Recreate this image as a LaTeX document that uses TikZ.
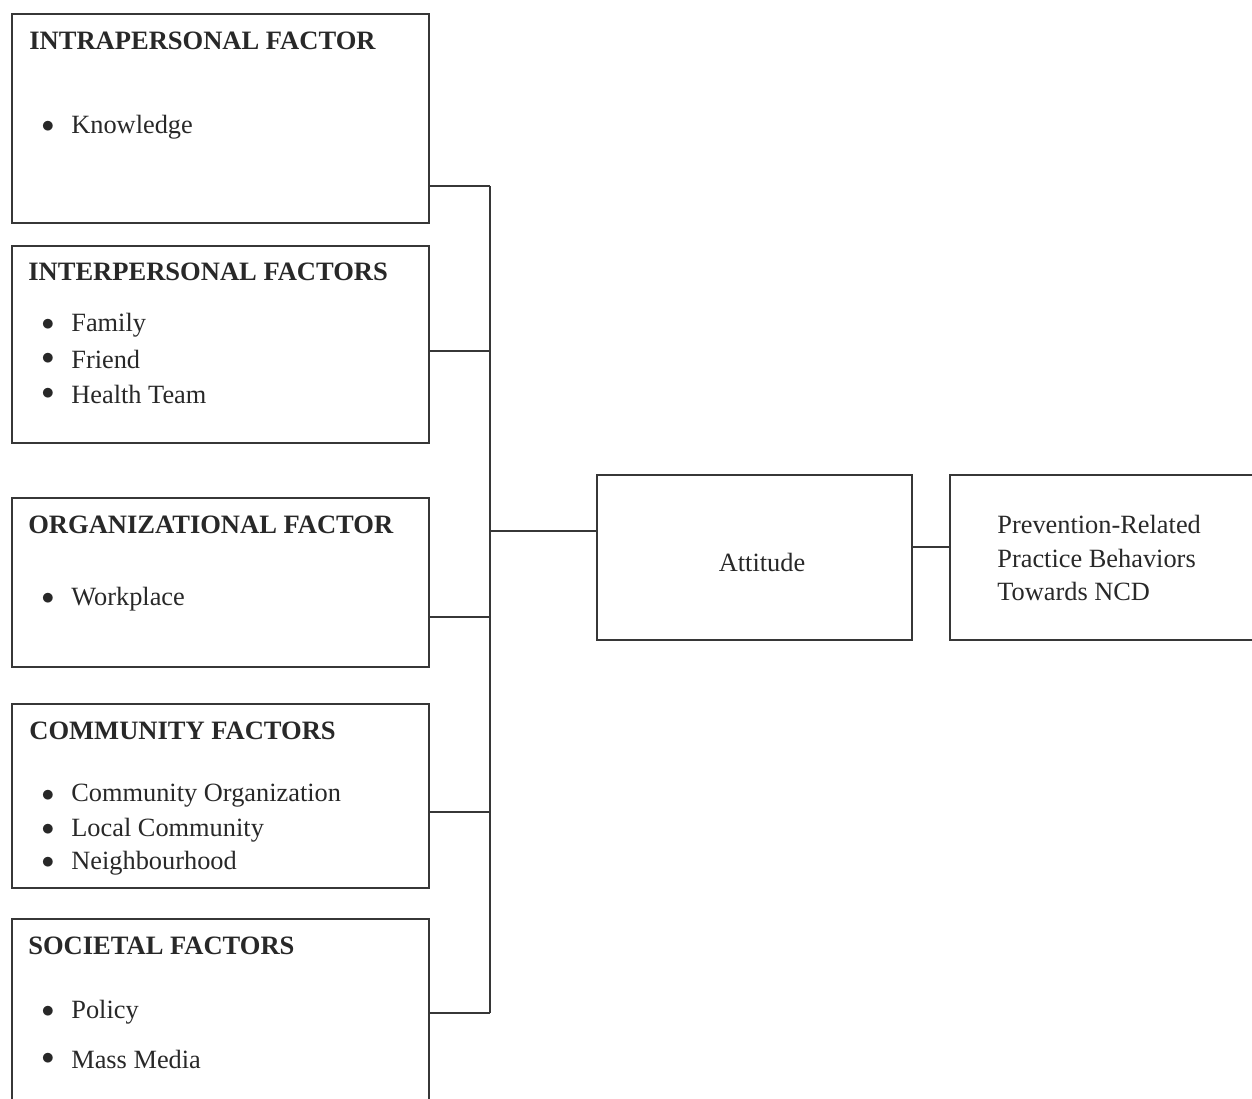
\documentclass[tikz,border=0pt]{standalone}
\usepackage{fontspec}
\setmainfont{Liberation Serif}
\usepackage{xcolor}
\usepackage{tikz}
\usetikzlibrary{calc}
\definecolor{figline}{RGB}{55,55,55}
\definecolor{figtext}{RGB}{40,40,40}
\tikzset{
  bx/.style  ={draw=figline, line width=1.1pt, inner sep=0pt, anchor=north west},
  cn/.style  ={draw=figline, line width=1.1pt},
  hd/.style  ={font=\fontsize{15.1}{17}\selectfont\bfseries, text=figtext, anchor=west, inner sep=0pt},
  it/.style  ={font=\fontsize{15}{17}\selectfont, text=figtext, anchor=west, inner sep=0pt},
  dot/.style ={font=\fontsize{15}{17}\selectfont, text=figtext, inner sep=0pt},
}
\begin{document}
\begin{tikzpicture}
  \useasboundingbox (0,0) rectangle (25.04,-21.96);
  \clip (0,0) rectangle (25.04,-21.96);
  % factor boxes
  \node[bx, minimum width=8.34cm, minimum height=4.18cm] (intra) at (0.22,-0.26) {};
  \node[bx, minimum width=8.34cm, minimum height=3.94cm] (inter) at (0.22,-4.90) {};
  \node[bx, minimum width=8.34cm, minimum height=3.38cm] (orga)  at (0.22,-9.94) {};
  \node[bx, minimum width=8.34cm, minimum height=3.68cm] (comm)  at (0.22,-14.06) {};
  \node[bx, minimum width=8.34cm, minimum height=4.40cm] (soci)  at (0.22,-18.36) {};
  % headings
  \node[hd] (intrah) at (0.58,-0.82) {INTRAPERSONAL FACTOR};
  \node[hd] (interh) at (0.56,-5.44) {INTERPERSONAL FACTORS};
  \node[hd] (orgah)  at (0.56,-10.50) {ORGANIZATIONAL FACTOR};
  \node[hd] (commh)  at (0.58,-14.62) {COMMUNITY FACTORS};
  \node[hd] (socih)  at (0.56,-18.92) {SOCIETAL FACTORS};
  % items
  \node[dot] at (0.96,-2.53) {$\bullet$}; \node[it] (kno) at (1.42,-2.54) {Knowledge};
  \node[dot] at (0.96,-6.49) {$\bullet$}; \node[it] (fam) at (1.42,-6.50) {Family};
  \node[dot] at (0.96,-7.17) {$\bullet$}; \node[it] (fri) at (1.42,-7.18) {Friend};
  \node[dot] at (0.96,-7.87) {$\bullet$}; \node[it] (hea) at (1.42,-7.88) {Health Team};
  \node[dot] at (0.96,-11.97) {$\bullet$}; \node[it] (wor) at (1.42,-11.98) {Workplace};
  \node[dot] at (0.96,-15.91) {$\bullet$}; \node[it] (cor) at (1.42,-15.92) {Community Organization};
  \node[dot] at (0.96,-16.59) {$\bullet$}; \node[it] (loc) at (1.42,-16.60) {Local Community};
  \node[dot] at (0.96,-17.25) {$\bullet$}; \node[it] (nei) at (1.42,-17.26) {Neighbourhood};
  \node[dot] at (0.96,-20.23) {$\bullet$}; \node[it] (pol) at (1.42,-20.24) {Policy};
  \node[dot] at (0.96,-21.17) {$\bullet$}; \node[it] (mas) at (1.42,-21.18) {Mass Media};
  % attitude and outcome
  \node[bx, minimum width=6.30cm, minimum height=3.30cm] (att) at (11.92,-9.48) {};
  \node[it, anchor=center] (attl) at (15.24,-11.24) {Attitude};
  \node[bx, minimum width=6.40cm, minimum height=3.30cm] (prac) at (18.98,-9.48) {};
  \node[it, align=left, font=\fontsize{15}{18.8}\selectfont] (pracl) at (19.94,-11.16)
    {Prevention-Related\\Practice Behaviors\\Towards NCD};
  % connectors
  \coordinate (j1) at (9.80,-3.72);
  \coordinate (j2) at (9.80,-7.02);
  \coordinate (j3) at (9.80,-12.34);
  \coordinate (j4) at (9.80,-16.24);
  \coordinate (j5) at (9.80,-20.26);
  \coordinate (ja) at (9.80,-10.62);
  \draw[cn] (j1 -| intra.east) -- (j1);
  \draw[cn] (j2 -| inter.east) -- (j2);
  \draw[cn] (j3 -| orga.east) -- (j3);
  \draw[cn] (j4 -| comm.east) -- (j4);
  \draw[cn] (j5 -| soci.east) -- (j5);
  \draw[cn] (j1) -- (j5);
  \draw[cn] (ja) -- (ja -| att.west);
  \coordinate (jb) at (18.60,-10.94);
  \draw[cn] (jb -| att.east) -- (jb -| prac.west);
\end{tikzpicture}
\end{document}
